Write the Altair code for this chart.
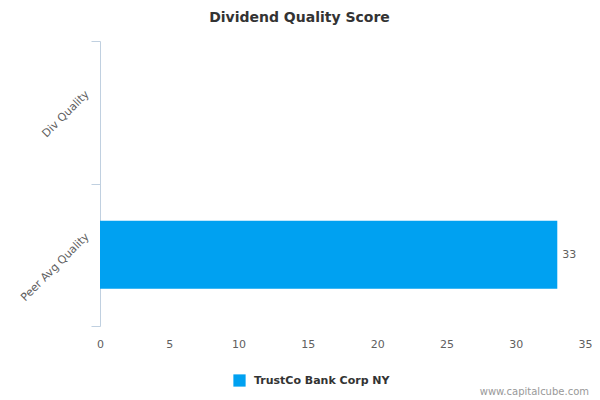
import altair as alt
import pandas as pd

categories = ["Div Quality", "Peer Avg Quality"]
values = [None, 33]
company = "TrustCo Bank Corp NY"
x_ticks = [0, 5, 10, 15, 20, 25, 30, 35]
bar_color = "#00A1F1"
font = "DejaVu Sans"

df = pd.DataFrame({"category": categories, "value": values, "company": [company] * len(categories)})

y_enc = alt.Y(
    "category:N",
    sort=categories,
    scale=alt.Scale(domain=categories, paddingInner=0, paddingOuter=0),
    axis=alt.Axis(
        title=None,
        labelAngle=-45,
        labelAlign="right",
        labelBaseline="middle",
        labelOffset=-20,
        labelPadding=4,
        labelFont=font,
        labelFontSize=11,
        labelColor="#606060",
        tickBand="extent",
        tickSize=9,
        tickColor="#C0D0E0",
        domainColor="#C0D0E0",
        grid=False,
    ),
)

x_enc = alt.X(
    "value:Q",
    scale=alt.Scale(domain=[0, 35], nice=False),
    axis=alt.Axis(
        title=None,
        values=x_ticks,
        domain=False,
        ticks=False,
        tickSize=0,
        grid=False,
        labelFlush=False,
        labelPadding=12,
        labelFont=font,
        labelFontSize=11,
        labelColor="#606060",
    ),
)

bars = alt.Chart(df).mark_bar(size=68).encode(
    y=y_enc,
    x=x_enc,
    color=alt.Color(
        "company:N",
        scale=alt.Scale(domain=[company], range=[bar_color]),
        legend=alt.Legend(
            title=None,
            orient="none",
            legendX=133,
            legendY=333,
            symbolType="square",
            symbolSize=150,
            symbolStrokeWidth=0,
            labelOffset=8,
            labelFont=font,
            labelFontSize=11,
            labelFontWeight="bold",
            labelColor="#333333",
        ),
    ),
)

labels = alt.Chart(df).transform_filter("datum.value != null").mark_text(
    align="left", baseline="middle", dx=5, font=font, fontSize=11, color="#606060"
).encode(y=alt.Y("category:N", sort=categories), x="value:Q", text=alt.Text("value:Q", format="d"))

wm = alt.Chart(pd.DataFrame({"t": ["www.capitalcube.com"]})).mark_text(
    align="right", baseline="middle", font=font, fontSize=10, color="#999999"
).encode(text="t:N", x=alt.value(489), y=alt.value(351))

chart = alt.layer(bars, labels, wm).properties(
    width=485,
    height=285,
    title=alt.TitleParams(
        "Dividend Quality Score",
        anchor="middle",
        dx=-43,
        offset=12,
        font=font,
        fontSize=14,
        fontWeight="bold",
        color="#333333",
    ),
    autosize=alt.AutoSizeParams(type="none"),
    padding={"left": 92, "top": 33, "right": 7, "bottom": 74},
).configure(
    background="white",
    view=alt.ViewConfig(stroke="transparent", strokeWidth=0),
)

chart.save("out.html", embed_options={"renderer": "svg", "actions": False})
